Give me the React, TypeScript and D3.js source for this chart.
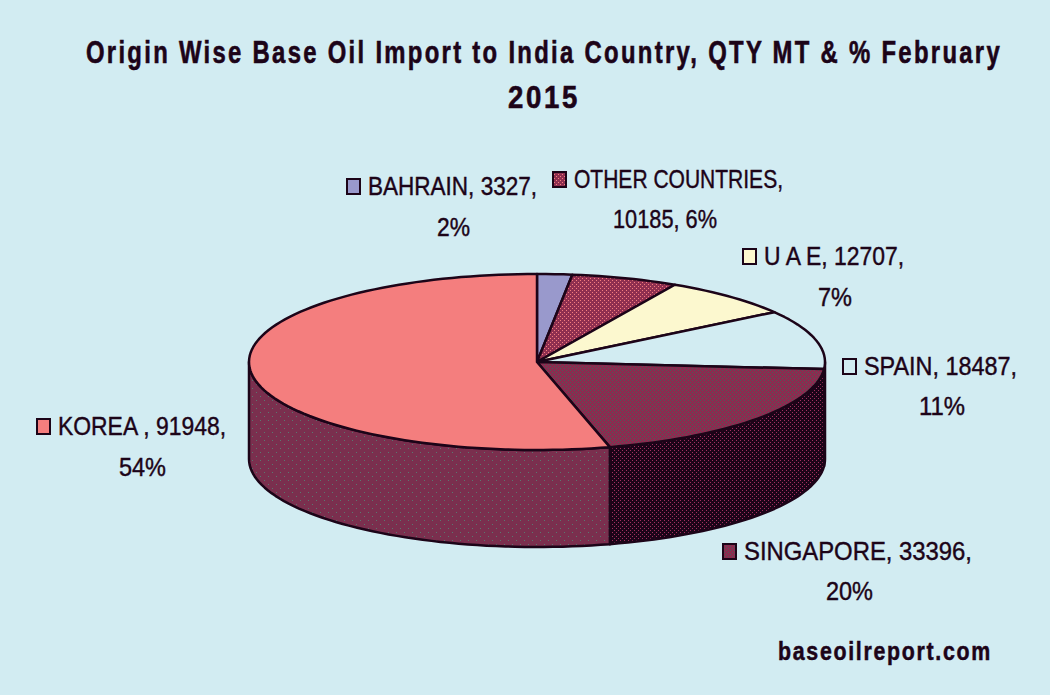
import * as d3 from 'd3';

// ── Data ──────────────────────────────────────────────────────────────────────
const QUANTITIES = [3327, 10185, 12707, 18487, 33396, 91948];
const LABEL_FIRST = ['BAHRAIN, 3327,', 'OTHER COUNTRIES,', 'U A E, 12707,', 'SPAIN, 18487,', 'SINGAPORE, 33396,', 'KOREA , 91948,'];
const LABEL_SECOND = ['2%', '10185, 6%', '7%', '11%', '20%', '54%'];
const TITLE_LINES = ['Origin Wise Base Oil Import to India Country, QTY MT & % February', '2015'];
const SOURCE = 'baseoilreport.com';

// ── Layout ────────────────────────────────────────────────────────────────────
const VW = 1050;
const VH = 695;
const CX = 537;
const CY = 362;
const RX = 288;
const RY = 88;
const DEPTH = 97;
const SQUEEZE = 0.8;

// Text has no condensed face here, so each line is fitted to its measured width.
const LABEL_POS = [
  { x: 368, y: 195, w: 169, x2: 437, y2: 236, w2: 33 },
  { x: 574, y: 188, w: 209, x2: 613, y2: 228, w2: 104 },
  { x: 764, y: 265, w: 140, x2: 818, y2: 306, w2: 34 },
  { x: 864, y: 375, w: 153, x2: 919, y2: 415, w2: 46 },
  { x: 744, y: 560, w: 228, x2: 826, y2: 600, w2: 47 },
  { x: 58, y: 435, w: 168, x2: 119, y2: 476, w2: 47 },
];

// ── Colors ────────────────────────────────────────────────────────────────────
const BG = '#d2ecf2';
const INK = '#1c0418';
const TOP_FILLS = ['#9999cc', 'url(#dotOther)', '#fcf8cf', BG, 'url(#dotSing)', '#f47e7e'];
const WALL_FILLS = ['#6a6a90', 'url(#dotOther)', '#b0ac8c', 'url(#dotSingWall)', 'url(#dotSingWall)', 'url(#dotKoreaWall)'];

const slices = d3.pie<number>().sort(null).startAngle(0).endAngle(2 * Math.PI)(QUANTITIES);

const sx = d3.scaleLinear().domain([-1, 1]).range([CX - RX, CX + RX]);
const sy = d3.scaleLinear().domain([-1, 1]).range([CY - RY, CY + RY]);
const pathLine = d3.line<[number, number]>().x(d => d[0]).y(d => d[1]);

function rim(from: number, to: number): [number, number][] {
  const n = Math.max(2, Math.ceil((to - from) * 30));
  return d3.range(0, n + 1).map(i => {
    const a = from + ((to - from) * i) / n;
    return [sx(Math.sin(a)), sy(-Math.cos(a))];
  });
}

function topPath(a0: number, a1: number): string {
  return pathLine([[sx(0), sy(0)], ...rim(a0, a1)]) + 'Z';
}

// Side wall of a slice: only the front half of the rim (90deg..270deg) shows.
function wallPath(a0: number, a1: number): string | null {
  const from = Math.max(a0, Math.PI / 2);
  const to = Math.min(a1, (3 * Math.PI) / 2);
  if (to <= from) return null;
  const top = rim(from, to);
  const bottom = top.map(p => [p[0], p[1] + DEPTH] as [number, number]).reverse();
  return pathLine([...top, ...bottom]) + 'Z';
}

function Dots({ id, base, dot, size }: { id: string; base: string; dot: string; size: number }) {
  return (
    <pattern id={id} width={size} height={size} patternUnits="userSpaceOnUse">
      <rect width={size} height={size} fill={base} />
      <rect x={0} y={0} width={1} height={1} fill={dot} />
      <rect x={size / 2} y={size / 2} width={1} height={1} fill={dot} />
    </pattern>
  );
}

export default function App() {
  return (
    <svg
      width={VW}
      height={VH}
      viewBox={`0 0 ${VW} ${VH}`}
      style={{ position: 'fixed', left: 0, top: 0, display: 'block' }}
      fontFamily={'"Liberation Sans", sans-serif'}
    >
      <defs>
        <Dots id="dotOther" base="#8f2f50" dot="#f47e7e" size={4} />
        <Dots id="dotSing" base="#8a2c50" dot="#505a58" size={4} />
        <Dots id="dotSingWall" base="#1c0418" dot="#a03060" size={4} />
        <Dots id="dotKoreaWall" base="#7a2f4e" dot="#5a7870" size={8} />
      </defs>

      <rect width={VW} height={VH} fill={BG} />

      {/* Title: squeezed horizontally and tracked out like the original face */}
      <g fontSize={31} fontWeight={700} fill={INK} stroke={INK} strokeWidth={0.6} letterSpacing={3}>
        <text transform={`translate(86,63) scale(${SQUEEZE},1)`} textLength={916 / SQUEEZE} lengthAdjust="spacingAndGlyphs">
          {TITLE_LINES[0]}
        </text>
        <text transform={`translate(508,108) scale(${SQUEEZE},1)`} textLength={72 / SQUEEZE} lengthAdjust="spacingAndGlyphs">
          {TITLE_LINES[1]}
        </text>
      </g>

      {/* Side walls */}
      {slices.map((s, i) => {
        const d = wallPath(s.startAngle, s.endAngle);
        return d ? <path key={i} d={d} fill={WALL_FILLS[i]} stroke={INK} strokeWidth={2.5} strokeLinejoin="round" /> : null;
      })}

      {/* Top face */}
      {slices.map((s, i) => (
        <path
          key={i}
          d={topPath(s.startAngle, s.endAngle)}
          fill={TOP_FILLS[i]}
          stroke={INK}
          strokeWidth={2.5}
          strokeLinejoin="round"
        />
      ))}

      {/* Data labels with legend keys */}
      {LABEL_FIRST.map((label, i) => {
        const p = LABEL_POS[i];
        return (
          <g key={label} fontSize={25} fill={INK} stroke={INK} strokeWidth={0.4}>
            <rect
              x={p.x - 21}
              y={p.y - 16}
              width={13}
              height={15}
              fill={TOP_FILLS[i]}
              stroke={INK}
              strokeWidth={2}
            />
            <text x={p.x} y={p.y} textLength={p.w} lengthAdjust="spacingAndGlyphs">{label}</text>
            <text x={p.x2} y={p.y2} textLength={p.w2} lengthAdjust="spacingAndGlyphs">{LABEL_SECOND[i]}</text>
          </g>
        );
      })}

      <text
        transform={`translate(778,660) scale(${SQUEEZE},1)`}
        fontSize={25}
        fontWeight={700}
        fill={INK}
        stroke={INK}
        strokeWidth={0.5}
        letterSpacing={2}
        textLength={214 / SQUEEZE}
        lengthAdjust="spacingAndGlyphs"
      >
        {SOURCE}
      </text>
    </svg>
  );
}
